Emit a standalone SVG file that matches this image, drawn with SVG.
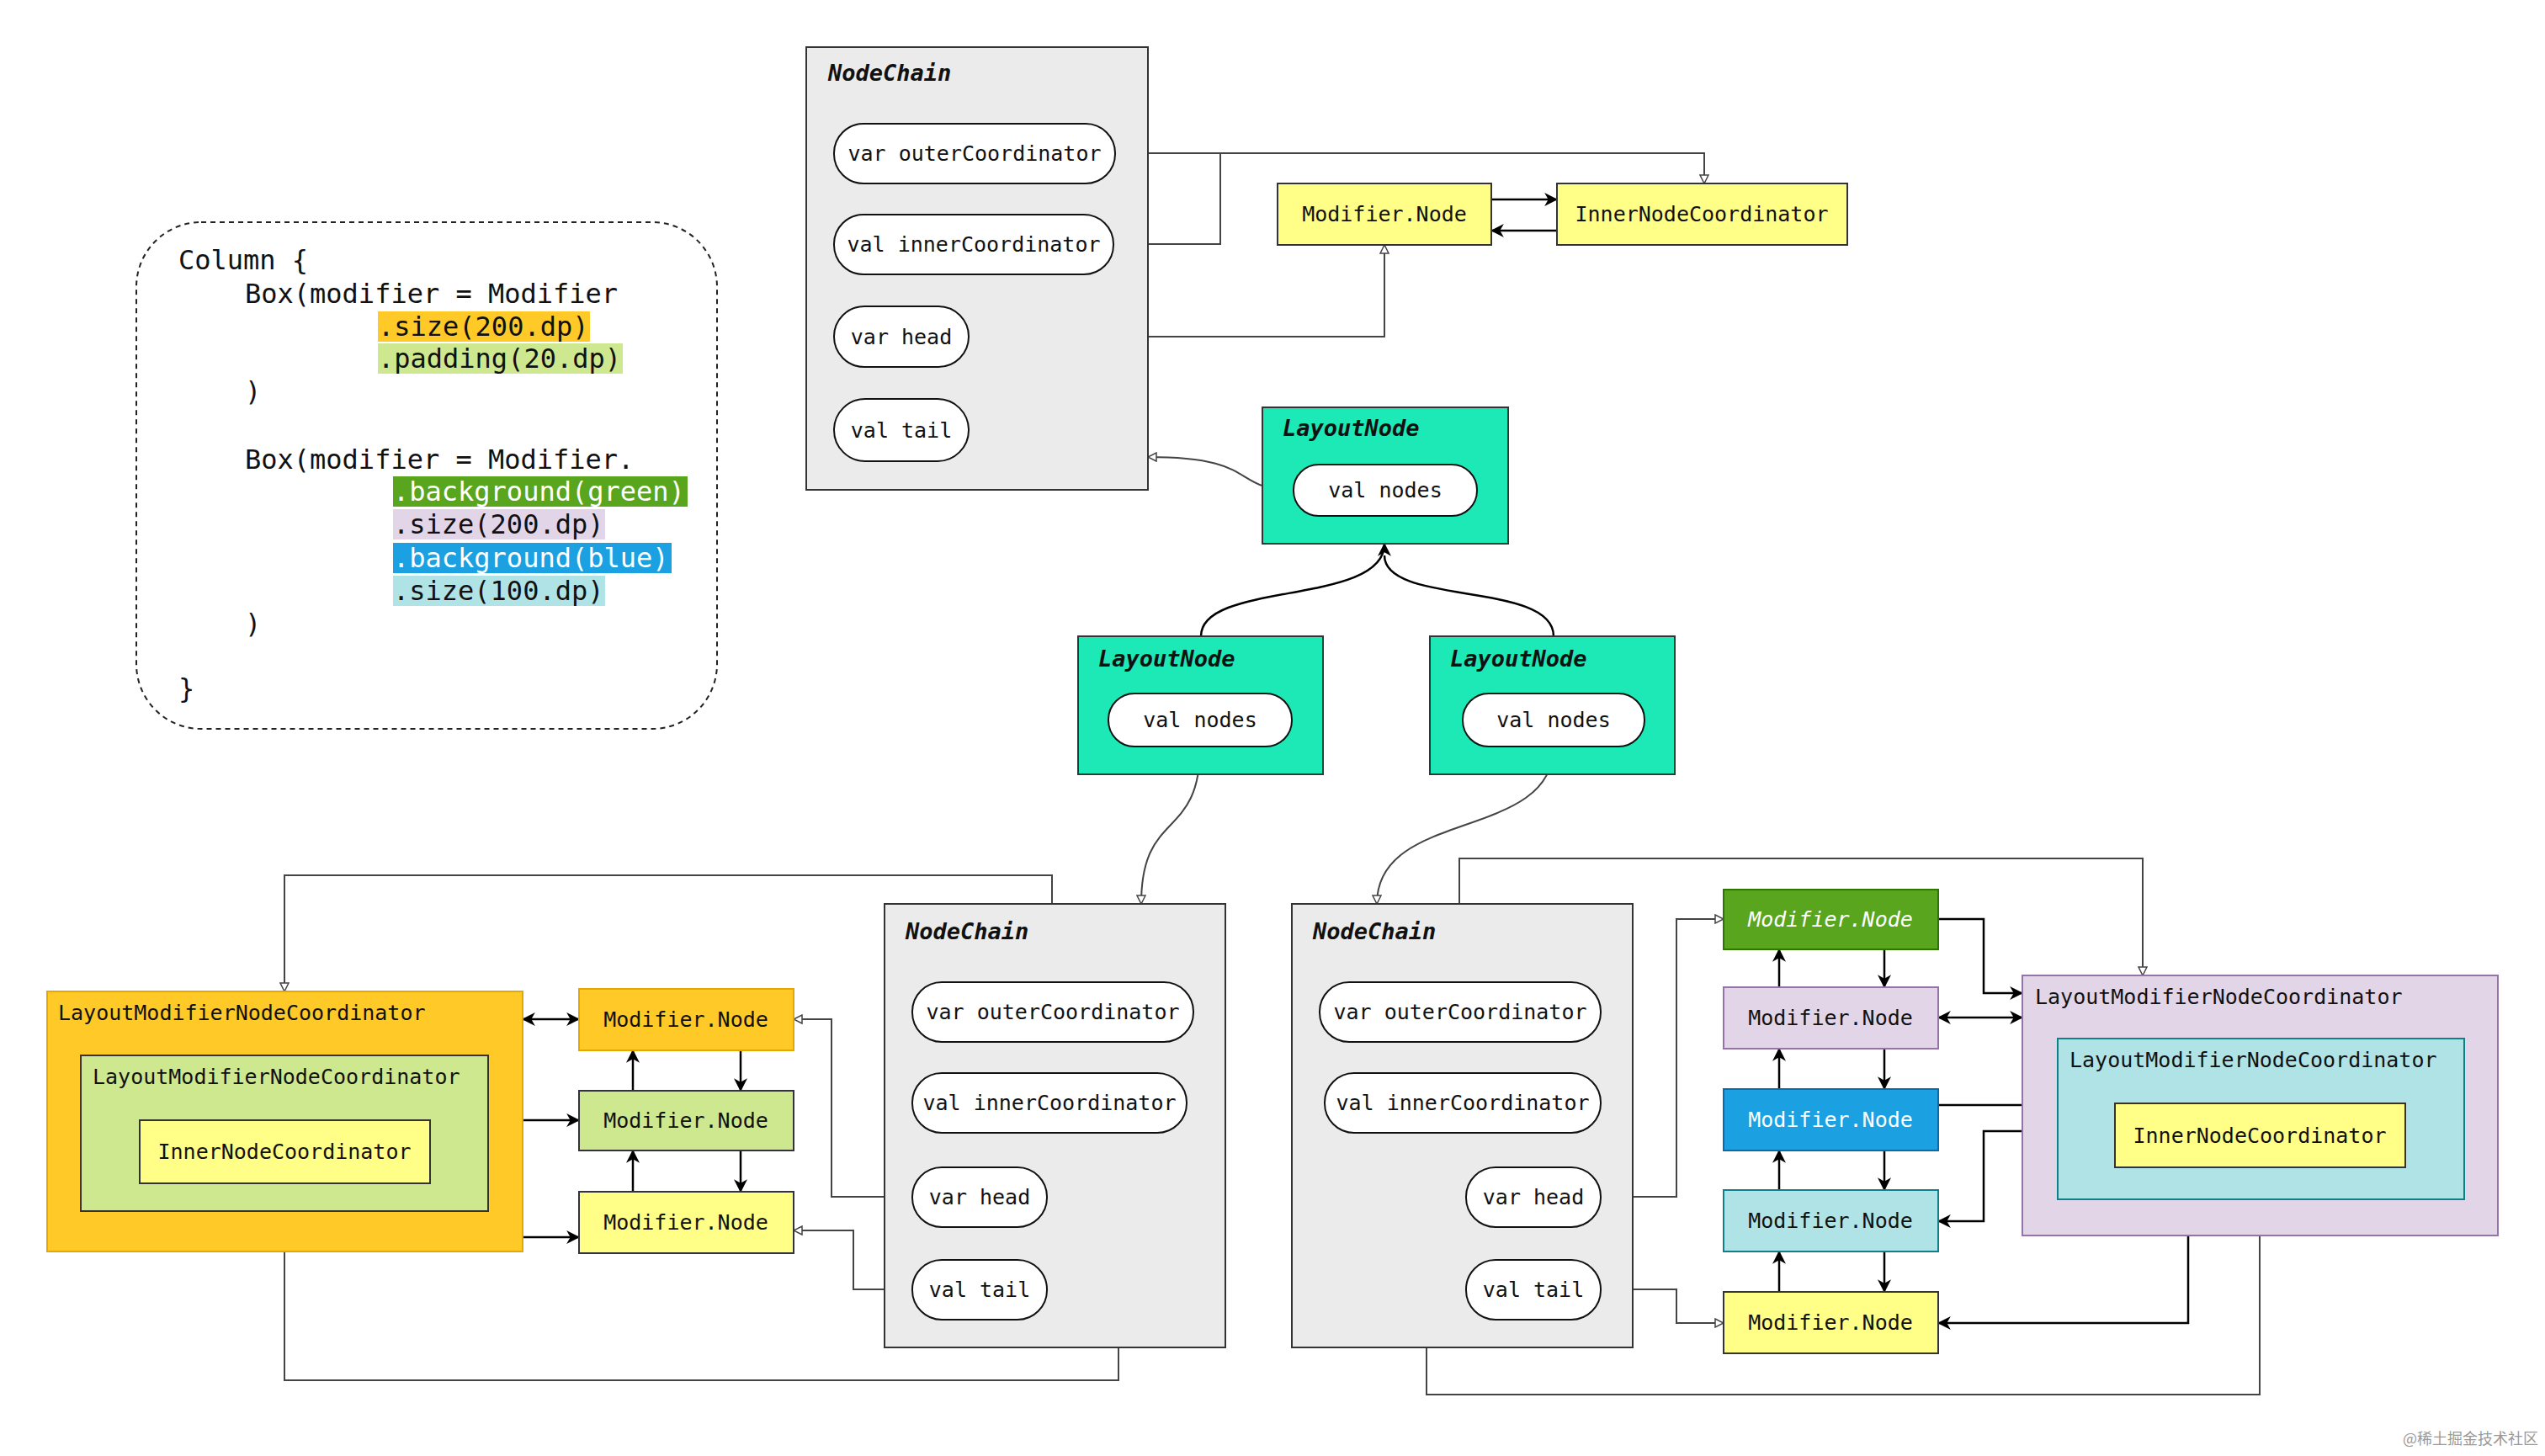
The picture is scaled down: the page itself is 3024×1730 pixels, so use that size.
<svg xmlns="http://www.w3.org/2000/svg" width="3024" height="1730" viewBox="0 0 3024 1730">
<defs>
<marker id="o" viewBox="0 0 12 12" refX="11" refY="6" markerWidth="12" markerHeight="12" markerUnits="userSpaceOnUse" orient="auto-start-reverse"><path d="M1,1 L11,6 L1,11 Z" fill="#fff" stroke="#444" stroke-width="1.5"/></marker>
<marker id="f" viewBox="0 0 14 14" refX="13" refY="7" markerWidth="16" markerHeight="16" markerUnits="userSpaceOnUse" orient="auto-start-reverse"><path d="M0,0 L14,7 L0,14 L4,7 Z" fill="#000"/></marker>
</defs>
<style>
text{font-family:"DejaVu Sans Mono","Liberation Mono",monospace;fill:#111}
.t{font-size:25px}
.c{font-size:32px}
.h{font-size:27px;font-weight:bold;font-style:italic}
.pill{fill:#fff;stroke:#111;stroke-width:2}
.box{stroke:#333;stroke-width:2}
.l{fill:none;stroke:#444;stroke-width:2}
.k{fill:none;stroke:#000;stroke-width:2.5}
.op{marker-end:url(#o)}
.fa{marker-end:url(#f)}
.fb{marker-start:url(#f);marker-end:url(#f)}
</style>
<rect width="3024" height="1730" fill="#fff"/>

<g id="code">
<rect x="162" y="264" width="690" height="602" rx="77" fill="#fff" stroke="#222" stroke-width="2" stroke-dasharray="6,5"/>
<rect x="449" y="370" width="252" height="36" fill="#FFC928"/>
<rect x="449" y="408" width="291" height="36" fill="#CDE88E"/>
<rect x="467" y="566" width="350" height="36" fill="#5AA51E"/>
<rect x="467" y="605" width="252" height="36" fill="#E1D5E7"/>
<rect x="467" y="645" width="331" height="36" fill="#1BA1E2"/>
<rect x="467" y="684" width="252" height="36" fill="#B0E3E6"/>
<text class="c" x="212" y="320">Column {</text>
<text class="c" x="291" y="360">Box(modifier = Modifier</text>
<text class="c" x="449" y="399">.size(200.dp)</text>
<text class="c" x="449" y="437">.padding(20.dp)</text>
<text class="c" x="291" y="476">)</text>
<text class="c" x="291" y="557">Box(modifier = Modifier.</text>
<text class="c" x="467" y="595" style="fill:#fff">.background(green)</text>
<text class="c" x="467" y="634">.size(200.dp)</text>
<text class="c" x="467" y="674" style="fill:#fff">.background(blue)</text>
<text class="c" x="467" y="713">.size(100.dp)</text>
<text class="c" x="291" y="752">)</text>
<text class="c" x="212" y="829">}</text>
</g>

<g id="connectors">
<!-- top -->
<polyline class="l op" points="1325,182 2025,182 2025,218"/>
<polyline class="l" points="1323,290 1450,290 1450,182"/>
<polyline class="l op" points="1151,400 1645,400 1645,291"/>
<polyline class="l" points="1151,497 1269,497 1269,400"/>
<line class="k fa" x1="1772" y1="237" x2="1850" y2="237"/>
<line class="k fa" x1="1850" y1="274" x2="1772" y2="274"/>
<path class="l op" d="M1537,582 C1460,582 1500,543 1364,543"/>
<path class="k fa" d="M1427,756 C1427,690 1645,720 1645,646"/>
<path class="k" d="M1846,756 C1846,690 1645,720 1645,660"/>
<path class="l op" d="M1426,887 C1426,1000 1356,960 1356,1074"/>
<path class="l op" d="M1846,887 C1846,1000 1636,960 1636,1074"/>
<!-- bottom left -->
<polyline class="l op" points="1250,1167 1250,1040 338,1040 338,1178"/>
<polyline class="l op" points="1329,1346 1329,1640 338,1640 338,1406"/>
<polyline class="l op" points="1084,1422 988,1422 988,1211 943,1211"/>
<polyline class="l op" points="1084,1532 1014,1532 1014,1462 943,1462"/>
<line class="k fa" x1="752" y1="1296" x2="752" y2="1248"/>
<line class="k fa" x1="880" y1="1248" x2="880" y2="1296"/>
<line class="k fa" x1="752" y1="1416" x2="752" y2="1367"/>
<line class="k fa" x1="880" y1="1367" x2="880" y2="1416"/>
<line class="k fb" x1="621" y1="1211" x2="688" y2="1211"/>
<line class="k fb" x1="580" y1="1331" x2="688" y2="1331"/>
<polyline class="k fb" points="424,1406 424,1470 688,1470"/>
<!-- bottom right -->
<polyline class="l op" points="1734,1167 1734,1020 2546,1020 2546,1159"/>
<polyline class="l op" points="1695,1346 1695,1657 2685,1657 2685,1387"/>
<polyline class="l op" points="1902,1422 1992,1422 1992,1092 2048,1092"/>
<polyline class="l op" points="1902,1532 1992,1532 1992,1572 2048,1572"/>
<line class="k fa" x1="2114" y1="1173" x2="2114" y2="1128"/>
<line class="k fa" x1="2239" y1="1128" x2="2239" y2="1173"/>
<line class="k fa" x1="2114" y1="1294" x2="2114" y2="1246"/>
<line class="k fa" x1="2239" y1="1246" x2="2239" y2="1294"/>
<line class="k fa" x1="2114" y1="1414" x2="2114" y2="1367"/>
<line class="k fa" x1="2239" y1="1367" x2="2239" y2="1414"/>
<line class="k fa" x1="2114" y1="1535" x2="2114" y2="1487"/>
<line class="k fa" x1="2239" y1="1487" x2="2239" y2="1535"/>
<polyline class="k fa" points="2303,1092 2357,1092 2357,1180 2403,1180"/>
<line class="k fb" x1="2303" y1="1209" x2="2403" y2="1209"/>
<line class="k fa" x1="2303" y1="1313" x2="2445" y2="1313"/>
<polyline class="k fb" points="2445,1344 2357,1344 2357,1451 2303,1451"/>
<polyline class="k fb" points="2600,1387 2600,1572 2303,1572"/>
</g>

<g id="nodechain-top">
<rect class="box" x="958" y="56" width="406" height="526" fill="#EBEBEB"/>
<text class="h" x="984" y="96">NodeChain</text>
<rect class="pill" x="991" y="147" width="334" height="71" rx="35"/><text class="t" x="1158" y="191" text-anchor="middle">var outerCoordinator</text>
<rect class="pill" x="991" y="255" width="332" height="71" rx="35"/><text class="t" x="1157" y="299" text-anchor="middle">val innerCoordinator</text>
<rect class="pill" x="991" y="364" width="160" height="72" rx="36"/><text class="t" x="1071" y="409" text-anchor="middle">var head</text>
<rect class="pill" x="991" y="474" width="160" height="74" rx="37"/><text class="t" x="1071" y="520" text-anchor="middle">val tail</text>
</g>
<g id="mod-top"><rect class="box" x="1518" y="218" width="254" height="73" fill="#FFFF88"/><text class="t" x="1645" y="263" text-anchor="middle">Modifier.Node</text></g>
<g id="inc-top"><rect class="box" x="1850" y="218" width="345" height="73" fill="#FFFF88"/><text class="t" x="2022" y="263" text-anchor="middle">InnerNodeCoordinator</text></g>

<g id="layout-top"><rect class="box" x="1500" y="484" width="292" height="162" fill="#1DE9B6"/><text class="h" x="1524" y="518">LayoutNode</text>
<rect class="pill" x="1537" y="552" width="218" height="61" rx="30"/><text class="t" x="1646" y="591" text-anchor="middle">val nodes</text></g>
<g id="layout-left"><rect class="box" x="1281" y="756" width="291" height="164" fill="#1DE9B6"/><text class="h" x="1305" y="792">LayoutNode</text>
<rect class="pill" x="1317" y="824" width="218" height="63" rx="31"/><text class="t" x="1426" y="864" text-anchor="middle">val nodes</text></g>
<g id="layout-right"><rect class="box" x="1699" y="756" width="291" height="164" fill="#1DE9B6"/><text class="h" x="1723" y="792">LayoutNode</text>
<rect class="pill" x="1738" y="824" width="216" height="63" rx="31"/><text class="t" x="1846" y="864" text-anchor="middle">val nodes</text></g>

<g id="nodechain-left">
<rect class="box" x="1051" y="1074" width="405" height="527" fill="#EBEBEB"/>
<text class="h" x="1076" y="1116">NodeChain</text>
<rect class="pill" x="1084" y="1167" width="334" height="71" rx="35"/><text class="t" x="1251" y="1211" text-anchor="middle">var outerCoordinator</text>
<rect class="pill" x="1084" y="1275" width="326" height="71" rx="35"/><text class="t" x="1247" y="1319" text-anchor="middle">val innerCoordinator</text>
<rect class="pill" x="1084" y="1387" width="160" height="71" rx="35"/><text class="t" x="1164" y="1431" text-anchor="middle">var head</text>
<rect class="pill" x="1084" y="1497" width="160" height="71" rx="35"/><text class="t" x="1164" y="1541" text-anchor="middle">val tail</text>
</g>
<g id="lmnc-orange"><rect x="56" y="1178" width="565" height="309" fill="#FFC928" stroke="#E6A800" stroke-width="2"/><text class="t" x="69" y="1212">LayoutModifierNodeCoordinator</text></g>
<g id="lmnc-green"><rect class="box" x="96" y="1254" width="484" height="185" fill="#CDE88E"/><text class="t" x="110" y="1288">LayoutModifierNodeCoordinator</text></g>
<g id="inc-left"><rect class="box" x="166" y="1331" width="345" height="75" fill="#FFFF88"/><text class="t" x="338" y="1377" text-anchor="middle">InnerNodeCoordinator</text></g>
<g id="mod-l1"><rect x="688" y="1175" width="255" height="73" fill="#FFC928" stroke="#E6A800" stroke-width="2"/><text class="t" x="815" y="1220" text-anchor="middle">Modifier.Node</text></g>
<g id="mod-l2"><rect class="box" x="688" y="1296" width="255" height="71" fill="#CDE88E"/><text class="t" x="815" y="1340" text-anchor="middle">Modifier.Node</text></g>
<g id="mod-l3"><rect class="box" x="688" y="1416" width="255" height="73" fill="#FFFF88"/><text class="t" x="815" y="1461" text-anchor="middle">Modifier.Node</text></g>

<g id="nodechain-right">
<rect class="box" x="1535" y="1074" width="405" height="527" fill="#EBEBEB"/>
<text class="h" x="1560" y="1116">NodeChain</text>
<rect class="pill" x="1568" y="1167" width="334" height="71" rx="35"/><text class="t" x="1735" y="1211" text-anchor="middle">var outerCoordinator</text>
<rect class="pill" x="1574" y="1275" width="328" height="71" rx="35"/><text class="t" x="1738" y="1319" text-anchor="middle">val innerCoordinator</text>
<rect class="pill" x="1742" y="1387" width="160" height="71" rx="35"/><text class="t" x="1822" y="1431" text-anchor="middle">var head</text>
<rect class="pill" x="1742" y="1497" width="160" height="71" rx="35"/><text class="t" x="1822" y="1541" text-anchor="middle">val tail</text>
</g>
<g id="mod-r1"><rect x="2048" y="1057" width="255" height="71" fill="#5AA51E" stroke="#2D7600" stroke-width="2"/><text class="t" x="2175" y="1101" text-anchor="middle" style="fill:#fff;font-style:italic">Modifier.Node</text></g>
<g id="mod-r2"><rect x="2048" y="1173" width="255" height="73" fill="#E1D5E7" stroke="#9673A6" stroke-width="2"/><text class="t" x="2175" y="1218" text-anchor="middle">Modifier.Node</text></g>
<g id="mod-r3"><rect x="2048" y="1294" width="255" height="73" fill="#1BA1E2" stroke="#006EAF" stroke-width="2"/><text class="t" x="2175" y="1339" text-anchor="middle" style="fill:#fff">Modifier.Node</text></g>
<g id="mod-r4"><rect x="2048" y="1414" width="255" height="73" fill="#B0E3E6" stroke="#0E8088" stroke-width="2"/><text class="t" x="2175" y="1459" text-anchor="middle">Modifier.Node</text></g>
<g id="mod-r5"><rect class="box" x="2048" y="1535" width="255" height="73" fill="#FFFF88"/><text class="t" x="2175" y="1580" text-anchor="middle">Modifier.Node</text></g>
<g id="lmnc-purple"><rect x="2403" y="1159" width="565" height="309" fill="#E1D5E7" stroke="#9673A6" stroke-width="2"/><text class="t" x="2418" y="1193">LayoutModifierNodeCoordinator</text></g>
<g id="lmnc-cyan"><rect x="2445" y="1234" width="483" height="191" fill="#B0E3E6" stroke="#0E8088" stroke-width="2"/><text class="t" x="2459" y="1268">LayoutModifierNodeCoordinator</text></g>
<g id="inc-right"><rect class="box" x="2513" y="1311" width="345" height="76" fill="#FFFF88"/><text class="t" x="2685" y="1358" text-anchor="middle">InnerNodeCoordinator</text></g>

<text x="3016" y="1716" text-anchor="end" style="font-family:'Noto Sans CJK SC','Noto Sans',sans-serif;font-size:18px;fill:#999">@稀土掘金技术社区</text>
</svg>
